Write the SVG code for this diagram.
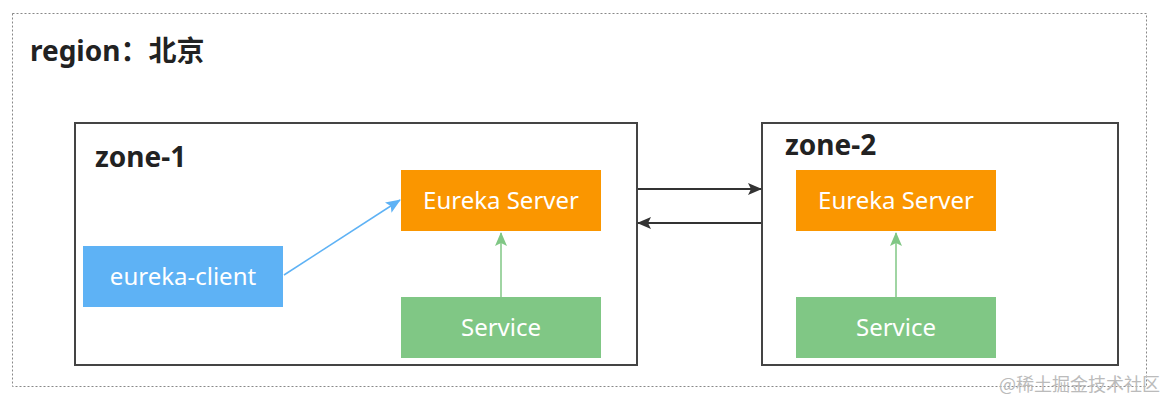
<svg xmlns="http://www.w3.org/2000/svg" width="1166" height="401" viewBox="0 0 1166 401">
<style>
.zone{fill:#fff;stroke:#444;stroke-width:2}
.box{stroke:none}
.lbl{font-family:"Noto Sans","Noto Sans CJK SC",sans-serif;font-size:24px;fill:#fff;text-anchor:middle}
.title{font-family:"Noto Sans","Noto Sans CJK SC",sans-serif;font-weight:bold;fill:#222}
</style>
<defs>
<marker id="ad" markerWidth="14" markerHeight="12" refX="13" refY="6" orient="auto" markerUnits="userSpaceOnUse"><path d="M0,0 L14,6 L0,12 L3,6 Z" fill="#333"/></marker>
<marker id="ab" markerWidth="15" markerHeight="12" refX="14" refY="6" orient="auto" markerUnits="userSpaceOnUse"><path d="M0,0 L15,6 L0,12 L3,6 Z" fill="#5eb2f5"/></marker>
<marker id="ag" markerWidth="14" markerHeight="12" refX="13" refY="6" orient="auto" markerUnits="userSpaceOnUse"><path d="M0,0 L14,6 L0,12 L3,6 Z" fill="#80c785"/></marker>
</defs>
<rect width="1166" height="401" fill="#fff"/>
<g id="region">
<rect x="12.5" y="13.5" width="1134" height="373" fill="none" stroke="#888" stroke-width="1" stroke-dasharray="2,2"/>
<text x="30" y="61" class="title" font-size="28">region：北京</text>
</g>
<g id="zone-1">
<rect x="75" y="123" width="562" height="242" class="zone"/>
<text x="95" y="167" class="title" font-size="28">zone-1</text>
</g>
<g id="zone-2">
<rect x="762" y="123" width="356" height="242" class="zone"/>
<text x="785" y="155" class="title" font-size="28">zone-2</text>
</g>
<g id="eureka-server-1"><rect x="401" y="170" width="200" height="61" fill="#fa9600" class="box"/><text x="501" y="209" class="lbl">Eureka Server</text></g>
<g id="service-1"><rect x="401" y="297" width="200" height="61" fill="#80c785" class="box"/><text x="501" y="336" class="lbl">Service</text></g>
<g id="eureka-client"><rect x="83" y="246" width="200" height="61" fill="#5eb2f5" class="box"/><text x="183" y="285" class="lbl">eureka-client</text></g>
<g id="eureka-server-2"><rect x="796" y="170" width="200" height="61" fill="#fa9600" class="box"/><text x="896" y="209" class="lbl">Eureka Server</text></g>
<g id="service-2"><rect x="796" y="297" width="200" height="61" fill="#80c785" class="box"/><text x="896" y="336" class="lbl">Service</text></g>
<g id="connectors" fill="none">
<line x1="638" y1="189" x2="761" y2="189" stroke="#333" stroke-width="2" marker-end="url(#ad)"/>
<line x1="761" y1="223" x2="638" y2="223" stroke="#333" stroke-width="2" marker-end="url(#ad)"/>
<line x1="284" y1="275" x2="400" y2="200" stroke="#5eb2f5" stroke-width="1.5" marker-end="url(#ab)"/>
<line x1="501" y1="297" x2="501" y2="233" stroke="#80c785" stroke-width="1.5" marker-end="url(#ag)"/>
<line x1="896" y1="297" x2="896" y2="233" stroke="#80c785" stroke-width="1.5" marker-end="url(#ag)"/>
</g>
<text x="1160" y="391" text-anchor="end" font-family="Noto Sans CJK SC,sans-serif" font-size="18" fill="#bbb">@稀土掘金技术社区</text>
</svg>
